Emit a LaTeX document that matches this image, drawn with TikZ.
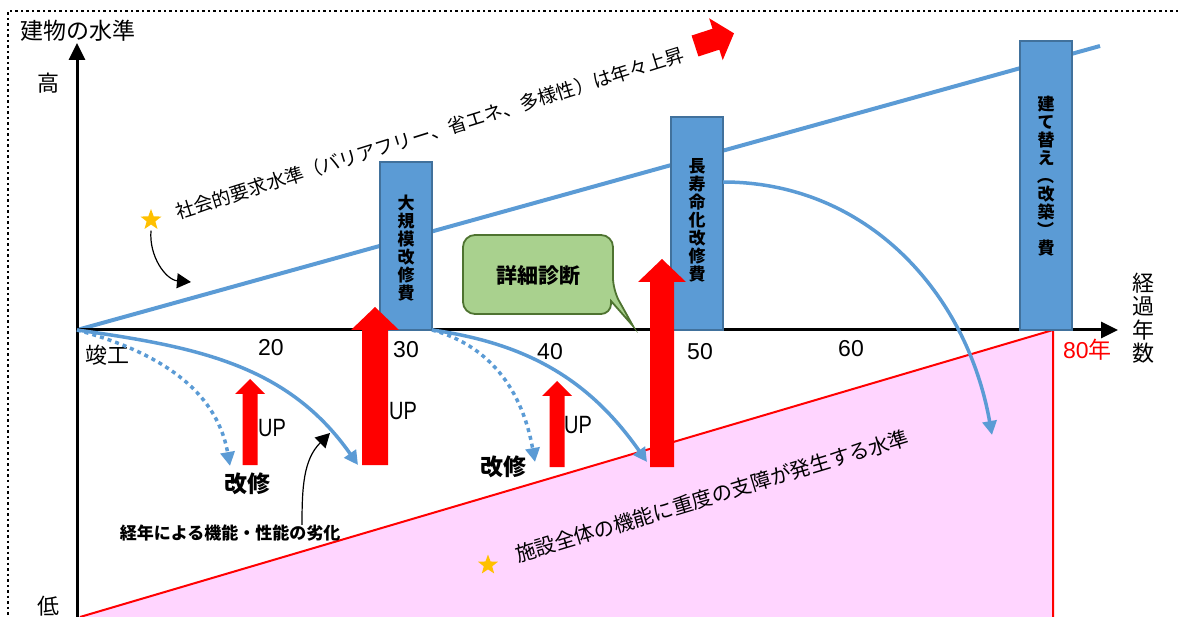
\documentclass[tikz,border=0pt]{standalone}
\usepackage{fontspec}
\usepackage{graphicx}
\setmainfont{Noto Sans CJK JP}
\newfontfamily\latin{Liberation Sans}
\usetikzlibrary{positioning, arrows.meta, shapes.geometric}

\definecolor{sky}{RGB}{91,155,213}
\definecolor{skyedge}{RGB}{65,113,156}
\definecolor{leaf}{RGB}{169,209,142}
\definecolor{leafedge}{RGB}{78,115,48}
\definecolor{pinkzone}{RGB}{255,213,255}
\definecolor{gold}{RGB}{255,192,0}

\tikzset{
	x=1pt, y=-1pt,
	>={Triangle[length=14pt,width=14pt]},
	every node/.style={inner sep=0pt, outer sep=0pt},
	axis/.style={line width=3pt, -{Triangle[length=17pt,width=16pt]}},
	decay/.style={sky, line width=3.5pt, ->},
	decaydot/.style={decay, dash pattern=on 4pt off 4pt},
	cost/.style={draw=skyedge, line width=2pt, fill=sky, minimum width=52pt},
	costtext/.style={font=\fontsize{17}{18}\selectfont\bfseries, align=center},
	big/.style={font=\fontsize{22}{26}\selectfont},
	num/.style={font=\latin\fontsize{23}{26}\selectfont},
	uplbl/.style={font=\latin\fontsize{25}{28}\selectfont},
	note/.style={line width=1.2pt, -{Triangle[length=14pt,width=15pt]}},
	mark5/.style={star, star points=5, star point ratio=2.4, fill=gold, minimum size=22pt},
	slope/.style={font=\fontsize{19}{22}\selectfont},
	bubble/.style={draw=leafedge, fill=leaf, line width=1.8pt, rounded corners=12pt},
}

\newcommand{\raiseup}[6]{\fill[red] (#1-#5,#2) -- (#1-#5,#3) -- (#1-#6,#3) -- (#1,#4) -- (#1+#6,#3) -- (#1+#5,#3) -- (#1+#5,#2) -- cycle;}
\newcommand{\vparen}[1]{\rotatebox[origin=c]{-90}{#1}}

\begin{document}
\begin{tikzpicture}
	\useasboundingbox (0,0) rectangle (1178,617);
	\draw[line width=2.5pt, dash pattern=on 2.5pt off 3pt] (1178,11) -- (8,11) -- (8,617);
	
	\coordinate (O) at (77,330);
	\coordinate (ytop) at (77,43);
	\coordinate (ybot) at (77,617);
	\coordinate (xend) at (1118,330);
	\coordinate (limit) at (1053,330);
	
	\fill[pinkzone] (ybot) -- (limit) -- (1053,617) -- cycle;
	\draw[red, line width=2pt] (80,617) -- (limit) -- (1053,617);
	
	\coordinate (demandend) at (1100,46);
	\draw[sky, line width=4pt] (O) -- (demandend);
	
	\draw[axis] (ybot) -- (ytop);
	\draw[axis] (O) -- (xend);
	
	\node[big, font=\fontsize{23}{26}\selectfont] (level) at (78,31) {建物の水準};
	\node[big] (high) at (48,83) {高};
	\node[big] (low) at (48,606) {低};
	\node[big, below right=15pt and 8pt of O] (kanko) {竣工};
	\node[num] (t20) at (271,348) {20};
	\node[num] (t30) at (406,350) {30};
	\node[num] (t40) at (550,352) {40};
	\node[num] (t50) at (700,352) {50};
	\node[num] (t60) at (851,349) {60};
	\node[num, text=red, right=10pt of limit, yshift=-20pt] (t80) {80\fontsize{23}{26}\selectfont\rmfamily 年};
	\node[big, align=center, font=\fontsize{22}{23.5}\selectfont] (years) at (1143,318) {経\\過\\年\\数};
	
	\node[cost, minimum height=168pt, anchor=south west] (bar30) at (380,330) {};
	\node[cost, minimum height=213pt, anchor=south west] (bar50) at (671,330) {};
	\node[cost, minimum height=289pt, anchor=south west] (bar80) at (1020,330) {};
	\node[costtext] (lbl30) at (406,248) {大\\規\\模\\改\\修\\費};
	\node[costtext] (lbl50) at (697,220) {長\\寿\\命\\化\\改\\修\\費};
	\node[costtext] (lbl80) at (1046,176) {建\\て\\替\\え\\\vparen{（}\\改\\築\\\vparen{）}\\費};
	
	\coordinate (d0) at (230,466);
	\coordinate (d1) at (358,465);
	\coordinate (d2) at (535,462);
	\coordinate (d3) at (647,462);
	\coordinate (fork50) at (723,182);
	\coordinate (d4) at (992,435);
	\draw[decaydot] (O) to[out=-15,in=100] (d0);
	\draw[decay] (O) to[out=-8,in=125] (d1);
	\draw[decaydot] (bar30.south east) to[out=-15,in=100] (d2);
	\draw[decay] (bar30.south east) to[out=-8,in=125] (d3);
	\draw[decay] (fork50) to[out=0,in=100] (d4);
	
	\raiseup{250}{465}{394}{379}{7.5}{15}
	\raiseup{375}{465}{330}{307}{13}{24}
	\raiseup{557}{467}{396}{381}{7.5}{15}
	\raiseup{662}{467}{282}{259}{12}{24}
	\node[uplbl] (up1) at (272,428) {\scalebox{0.8}[1]{UP}};
	\node[uplbl] (up2) at (403,411) {\scalebox{0.8}[1]{UP}};
	\node[uplbl] (up3) at (578,425) {\scalebox{0.8}[1]{UP}};
	\node[big, font=\fontsize{23}{26}\selectfont\bfseries] (fix1) at (247,484) {改修};
	\node[big, font=\fontsize{23}{26}\selectfont\bfseries] (fix2) at (503,467) {改修};
	
	\node[font=\fontsize{17}{20}\selectfont\bfseries] (agenote) at (230,533) {経年による機能・性能の劣化};
	\coordinate (noteend) at (330,433);
	\draw[note] ([xshift=72pt]agenote.north) to[out=90,in=225] (noteend);
	
	\node[mark5] (star1) at (151,220) {};
	\coordinate (starend) at (191,282);
	\draw[note] ([yshift=-6pt]star1.south) to[out=-95,in=175] (starend);
	\node[slope, rotate=17.4] (demand) at (430,133) {社会的要求水準（バリアフリー、省エネ、多様性）は年々上昇};
	
	\begin{scope}[shift={(695,46)}, rotate=18]
		\fill[red] (0,-11) -- (22,-11) -- (22,-22) -- (41,0) -- (22,22) -- (22,11) -- (0,11) -- cycle;
	\end{scope}
	
	\coordinate (diagtip) at (633,326);
	\draw[bubble] (538,314) -- (463,314) -- (463,235) -- (613,235) -- (613,290) [sharp corners] -- (diagtip) -- (611,301) [rounded corners=10pt] -- (611,314) -- cycle;
	\node[font=\fontsize{21}{24}\selectfont\bfseries] (diag) at (538,276) {詳細診断};
	
	\node[mark5, minimum size=21pt] (star2) at (488,565) {};
	\node[slope, font=\fontsize{20.5}{24}\selectfont, rotate=16.8] (failure) at (712,496) {施設全体の機能に重度の支障が発生する水準};
\end{tikzpicture}
\end{document}
